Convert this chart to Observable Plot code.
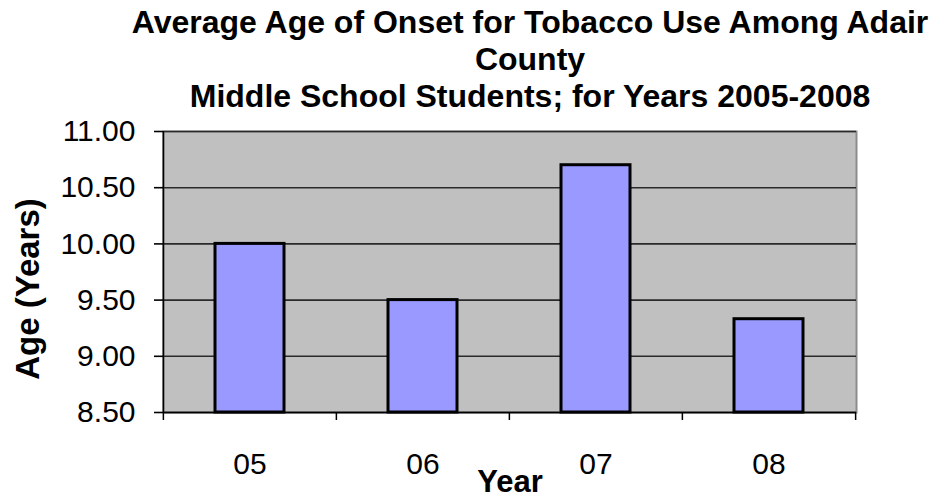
<!DOCTYPE html>
<html><head><meta charset="utf-8">
<script src="https://cdn.jsdelivr.net/npm/d3@7"></script>
<script src="https://cdn.jsdelivr.net/npm/@observablehq/plot@0.6"></script>
<style>
body{margin:0;background:#fff;font-family:"Liberation Sans",Arial,sans-serif;overflow:hidden;}
#title{height:110px;box-sizing:border-box;padding-left:118px;padding-top:4px;text-align:center;font-weight:bold;font-size:32px;line-height:37px;color:#000;white-space:nowrap;}
#chart svg{display:block;}
g[aria-label="x-axis label"] text, g[aria-label="y-axis label"] text{font-weight:bold;}
</style></head><body>
<div id="title">Average Age of Onset for Tobacco Use Among Adair<br>County<br>Middle School Students; for Years 2005-2008</div>
<div id="chart"></div>
<script>
const years = ["05","06","07","08"];
const ages = [10.0, 9.5, 10.7, 9.33];
const yTicks = [8.5, 9.0, 9.5, 10.0, 10.5, 11.0];
const data = years.map((y,i)=>({year:y, age:ages[i]}));

const W = 942, H = 387, mL = 163, mR = 86, mT = 21, mB = 85;
const step = (W - mL - mR) / years.length;
const yMin = 8.5, yMax = 11;
const tickLen = 8 * (yMax - yMin) / (H - mT - mB);

const plot = Plot.plot({
  width: W, height: H,
  marginLeft: mL, marginRight: mR, marginTop: mT, marginBottom: mB,
  style: {fontFamily: '"Liberation Sans", Arial, sans-serif', fontSize: "30px", color: "#000", background: "#fff", overflow: "visible"},
  x: {domain: years, paddingInner: 0.6, paddingOuter: 0.3, label: null},
  y: {domain: [yMin, yMax], label: null},
  marks: [
    Plot.frame({fill: "#c0c0c0", stroke: "#8c8c8c", strokeWidth: 2}),
    Plot.ruleY(yTicks, {stroke: "#2a2a2a", strokeWidth: 1.6}),
    Plot.barY(data, {x: "year", y1: yMin, y2: "age", fill: "#9999ff", stroke: "#000", strokeWidth: 3}),
    Plot.ruleY([yMin], {stroke: "#000", strokeWidth: 1.6}),
    Plot.ruleX([years[0]], {x: d => d, dx: -step/2, y1: yMin, y2: yMax, stroke: "#000", strokeWidth: 1.6}),
    Plot.ruleX(years, {x: d => d, dx: -step/2, y1: yMin, y2: yMin - tickLen, stroke: "#000", strokeWidth: 1.5}),
    Plot.ruleX([years[years.length-1]], {x: d => d, dx: step/2, y1: yMin, y2: yMin - tickLen, stroke: "#000", strokeWidth: 1.5}),
    Plot.axisY({ticks: yTicks, tickFormat: d3.format(".2f"), tickSize: 9, tickPadding: 19, strokeWidth: 1.6, label: "Age (Years)", labelAnchor: "center", labelOffset: 148, labelArrow: "none", fontSize: 30}),
    Plot.axisX({tickSize: 0, tickPadding: 40, label: "Year", labelAnchor: "center", labelOffset: 79, labelArrow: "none", fontSize: 30})
  ]
});
document.getElementById("chart").appendChild(plot);
d3.select(plot).selectAll('g[aria-label="x-axis label"] text').style("font-size", "31px");
d3.select(plot).selectAll('g[aria-label="y-axis label"]').attr("transform", function() {
  return "translate(0,17) " + (this.getAttribute("transform") || "");
}).selectAll("text").style("font-size", "33px");
</script>
</body></html>
